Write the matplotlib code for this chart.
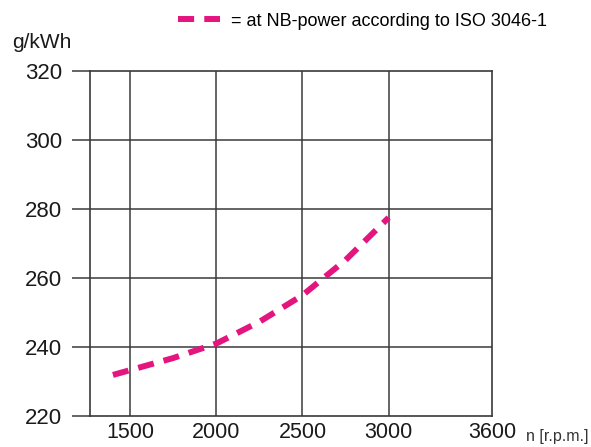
"""Specific fuel consumption vs engine speed (NB-power, ISO 3046-1)."""
import matplotlib
matplotlib.use('Agg')
import matplotlib.pyplot as plt

# curve
rpm = [1400, 1500, 1750, 2000, 2250, 2500, 2750, 3000]
consumption = [231.9, 233.3, 236.8, 241.0, 247.3, 255.0, 265.2, 277.5]

x_ticks = [1500, 2000, 2500, 3000, 3600]
y_ticks = [220, 240, 260, 280, 300, 320]

FONT = ['Liberation Sans Narrow', 'Liberation Sans', 'DejaVu Sans']
PINK = '#e4157f'
GRID = '#3a3a3a'


def main():
    plt.rcParams['font.family'] = FONT
    fig = plt.figure(figsize=(5.91, 4.47), dpi=100)
    ax = fig.add_axes([90 / 591, 1 - 416 / 447, 402 / 591, 345 / 447])

    line, = ax.plot(rpm, consumption, color=PINK, lw=4.3,
                    dashes=(2.7, 1.7), solid_capstyle='butt', dash_capstyle='butt')

    ax.set_xlim(1267, 3600)
    ax.set_ylim(220, 320)
    ax.set_xticks(x_ticks)
    ax.set_yticks(y_ticks)

    # vertical grid lines except the right edge, horizontal ones for every tick
    for v in x_ticks[:-1]:
        ax.axvline(v, color=GRID, lw=1.1, zorder=0)
    for v in y_ticks[1:-1]:
        ax.axhline(v, color=GRID, lw=1.1, zorder=0)

    for s in ax.spines.values():
        s.set_color(GRID)
        s.set_linewidth(1.2)

    ax.tick_params(axis='y', length=13, width=1.1, color=GRID, pad=7,
                   labelsize=16, labelcolor='#1a1a1a')
    ax.tick_params(axis='x', length=0, pad=4, labelsize=15.5, labelcolor='#1a1a1a')
    for lbl in ax.get_xticklabels():
        if lbl.get_text() == '3600':
            lbl.set_x(3620)

    fig.text(12 / 591, 1 - 42 / 447, 'g/kWh', fontsize=15, color='#1a1a1a',
             ha='left', va='center')
    fig.text(526 / 591, 1 - 436 / 447, 'n [r.p.m.]', fontsize=11.5, color='#333333',
             ha='left', va='center')

    # legend at the top
    fig.legend([line], ['= at NB-power according to ISO 3046-1'],
               loc='center left', bbox_to_anchor=(178 / 591, 1 - 21 / 447),
               frameon=False, fontsize=13, handlelength=2.3, handletextpad=0.65,
               borderaxespad=0, borderpad=0)

    fig.savefig('out.png', dpi=100)
    plt.close(fig)


if __name__ == '__main__':
    main()
